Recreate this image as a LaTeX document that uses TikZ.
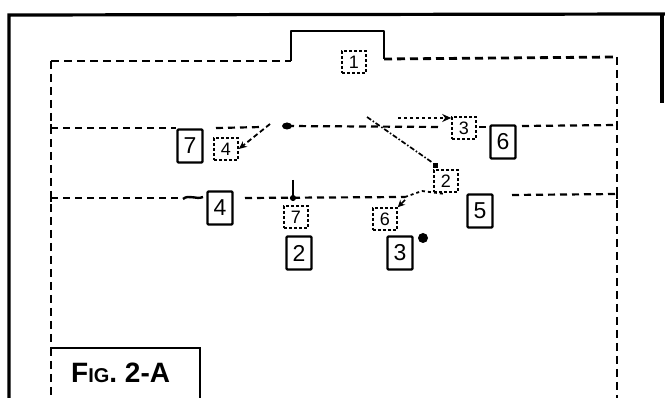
\documentclass[tikz,border=0pt]{standalone}
\usepackage{fontspec}
\setmainfont{Liberation Sans}
\usetikzlibrary{arrows.meta}
\begin{document}
\begin{tikzpicture}[x=1pt,y=-1pt,
  sbox/.style={draw,line width=2.4pt,minimum width=25pt,minimum height=33pt,inner sep=0pt,rounded corners=1pt,font=\fontsize{23}{23}\selectfont},
  dbox/.style={draw,line width=1.6pt,dash pattern=on 3pt off 2pt,minimum width=24pt,minimum height=22pt,inner sep=0pt,font=\fontsize{18}{18}\selectfont},
  wall/.style={line width=2.8pt,dash pattern=on 8pt off 5pt},
  track/.style={line width=2.2pt,dash pattern=on 7pt off 5pt},
  dotline/.style={line width=1.8pt,dash pattern=on 3pt off 3pt},
  frame/.style={line width=3.2pt},
  solidwall/.style={line width=2.6pt},
]
\useasboundingbox (0,0) rectangle (665,398);
% outer frame
\draw[frame] (9,398) -- (9,15) -- (665,14);
\draw[frame] (662,14) -- (662,103);
% inner dashed enclosure with bump
\coordinate (tl) at (51,61);
\coordinate (bl) at (291,61);
\coordinate (bul) at (291,31);
\coordinate (bur) at (384,31);
\coordinate (br) at (384,59);
\coordinate (tr) at (617,57);
\coordinate (rb) at (617,398);
\coordinate (lb) at (51,398);
\coordinate (fc) at (51,348);
\coordinate (fr) at (200,348);
\coordinate (frb) at (200,398);
\draw[wall] (tl) -- (bl);
\draw[solidwall,line join=round] (bl) -- (bul) -- (bur) -- (br);
\draw[wall] (br) -- (tr);
\draw[wall] (tr) -- (rb);
\draw[wall] (tl) -- (fc);
\draw[wall] (fc) -- (lb);
\draw[solidwall] (fc) -- (fr) -- (frb);
\node[font=\bfseries\fontsize{28}{28}\selectfont, anchor=base west, inner sep=0pt] (fig) at (71,383) {F{\fontsize{20}{20}\selectfont IG}. 2-A};
% boxes
\node[dbox] (d1) at (354,62) {1};
\node[sbox] (s7) at (190,146) {7};
\node[dbox] (d4) at (226,149) {4};
\node[dbox] (d3) at (464,128) {3};
\node[sbox] (s6) at (503,142) {6};
\node[dbox] (d2) at (446,181) {2};
\node[sbox] (s4) at (220,208) {4};
\node[sbox] (s5) at (480,211) {5};
\node[dbox] (d7) at (296,217) {7};
\node[dbox] (d6) at (385,219) {6};
\node[sbox] (s2) at (299,253) {2};
\node[sbox] (s3) at (400,253) {3};
\fill (423,238) circle (5pt);
% track 1
\coordinate (a1) at (51,128);
\coordinate (a2) at (176,128);
\coordinate (a3) at (216,128);
\coordinate (a4) at (262,127);
\coordinate (a5) at (287,126);
\coordinate (a6) at (442,127);
\coordinate (a7) at (522,126);
\coordinate (a8) at (617,125);
\draw[track] (a1) -- (a2);
\draw[track] (a3) -- (a4);
\draw[track] (a5) -- (a6);
\draw[track] (a7) -- (a8);
\fill (a5) ellipse (5pt and 3.5pt);
\draw[line width=2.2pt] (479,127) -- (486,127);
% arrow into dashed 4
\coordinate (ar1) at (270,124);
\draw[line width=1.8pt,dash pattern=on 5pt off 3pt,-{Stealth[length=8pt,width=7pt]}] (ar1) -- (d4.east);
% dotted arrow to dashed 3
\coordinate (ar2) at (398,118);
\draw[dotline,-{Stealth[length=9pt,width=8pt]}] (ar2) -- (d3.west|-ar2);
% diagonal to dashed 2
\coordinate (g1) at (367,117);
\coordinate (g2) at (433,163);
\draw[line width=1.7pt,dash pattern=on 5pt off 2pt on 1.5pt off 2pt] (g1) -- (g2);
\fill (g2) rectangle ++(5,5);
% track 2
\coordinate (b1) at (51,198);
\coordinate (b2) at (180,198);
\coordinate (b3) at (245,198);
\coordinate (b4) at (405,197);
\coordinate (b5) at (422,191);
\coordinate (b6) at (445,194);
\coordinate (b7) at (512,195);
\coordinate (b8) at (617,194);
\draw[track] (b1) -- (b2);
\draw[line width=2.4pt] (183,199) .. controls (189,194) and (196,200) .. (203,197);
\draw[track] (b3) -- (b4);
\draw[dotline] (b4) -- (b5) -- (b6);
\draw[track] (b7) -- (b8);
% down arrow to track 2
\coordinate (c1) at (293,180);
\coordinate (c2) at (293,201);
\draw[line width=1.7pt,-{Circle[length=6pt]}] (c1) -- (c2);
% small arrow to dashed 6
\coordinate (e1) at (405,200);
\draw[line width=1.7pt,-{Stealth[length=7pt,width=7pt]}] (e1) -- (d6.north east);
% tick marks at ends
\draw[line width=2.6pt] (a1) ++(0,-4) -- ++(0,8);
\draw[line width=2.6pt] (b1) ++(0,-4) -- ++(0,8);
\draw[line width=2.6pt] (a8) ++(0,-4) -- ++(0,8);
\draw[line width=2.6pt] (b8) ++(0,-5) -- ++(0,10);
\end{tikzpicture}
\end{document}
